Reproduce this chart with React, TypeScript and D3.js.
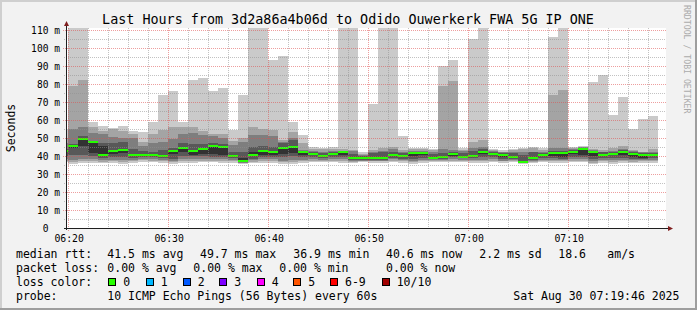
import React from 'react';
import * as d3 from 'd3';

// ---------- data ----------
const columnTimes = [
  '06:19','06:20','06:21','06:22','06:23','06:24','06:25','06:26','06:27','06:28','06:29',
  '06:30','06:31','06:32','06:33','06:34','06:35','06:36','06:37','06:38','06:39',
  '06:40','06:41','06:42','06:43','06:44','06:45','06:46','06:47','06:48','06:49',
  '06:50','06:51','06:52','06:53','06:54','06:55','06:56','06:57','06:58','06:59',
  '07:00','07:01','07:02','07:03','07:04','07:05','07:06','07:07','07:08','07:09',
  '07:10','07:11','07:12','07:13','07:14','07:15','07:16','07:17','07:18'
];

const medianRtt = [
  42.8, 45.4, 49.7, 47.6, 40.7, 43.0, 43.5, 40.7, 40.7, 40.7, 40.0, 43.0, 44.4, 43.0, 44.1, 45.7, 45.2, 40.0, 37.4, 40.7, 43.0,
  42.0, 44.4, 45.0, 42.0, 41.3, 40.2, 41.3, 42.0, 38.9, 38.9, 38.9, 38.9, 40.7, 40.2, 41.9, 41.9, 38.9, 39.5, 41.3, 39.6,
  40.2, 42.4, 41.3, 40.6, 39.6, 36.9, 39.1, 40.7, 41.9, 41.9, 42.4, 44.1, 42.4, 40.7, 41.3, 42.4, 41.3, 40.7, 40.6
];

// sorted pings per column (ping1 = fastest ... ping10 = slowest), ms
const ping1 = [
  36.5, 35.7, 36, 36.2, 36, 36.2, 35.8, 36.3, 36.6, 36.5, 36.2, 35.8, 36, 36.2, 36.5, 36.4, 36.2, 36.2, 35.4, 36, 36.3,
  36, 35.8, 35.5, 36, 36.5, 36.5, 36.5, 36.3, 36, 36.5, 36.2, 36, 36.5, 36.2, 35.5, 36, 36.5, 36.5, 36.5, 36.5,
  36.3, 36, 36.5, 36.3, 36.5, 35.5, 36, 36.5, 36, 36.3, 36.5, 36.5, 35.3, 36, 35.8, 36, 36, 36.3, 36
];
const ping2 = [
  37.5, 36.7, 37, 37.2, 36.8, 37.2, 36.8, 37.3, 37.6, 37.3, 37, 36.8, 37, 37, 37.3, 37.2, 37, 37, 35.9, 36.8, 37.2,
  37, 36.5, 36.5, 37, 37.3, 37.3, 37.5, 37.2, 36.8, 37, 37, 37, 37.5, 37, 36.5, 37, 37.3, 37.3, 37.5, 37.3,
  37.2, 37, 37.3, 37, 37.2, 36, 36.8, 37.2, 37, 37, 37.3, 37.5, 36.3, 37, 36.8, 37, 36.8, 37.2, 37
];
const ping3 = [
  38.5, 37.9, 38.3, 38.3, 37.8, 38, 37.8, 38, 38.3, 38.3, 38, 37.5, 38.3, 38.2, 38.5, 38.5, 38.2, 38, 36.3, 37.8, 38.2,
  38.3, 37.5, 37.8, 38, 38.3, 38, 38.3, 38.3, 37.3, 37.5, 37.5, 37.5, 38.2, 37.8, 37.5, 38, 37.8, 38, 38.3, 38,
  38, 38, 38.3, 37.5, 38, 36.3, 37.3, 38, 38, 37.8, 38.3, 38.5, 37.3, 38, 37.8, 38, 37.8, 38, 38
];
const ping4 = [
  40, 40.7, 40.7, 40.2, 38.8, 39.5, 39.5, 39, 39.5, 39.3, 39, 38.5, 40, 39.8, 40, 39.5, 39.5, 39, 36.8, 38.5, 39.5,
  39.5, 39.5, 40, 39.5, 39.5, 39, 39.5, 39.5, 37.8, 38, 38, 38, 39, 38.5, 38.5, 39, 38.2, 38.5, 39.3, 38.8,
  39, 39.5, 39.5, 38.5, 38.5, 36.6, 37.8, 39, 39, 38.5, 39.5, 39.5, 38.5, 39, 39, 39, 38.5, 38.5, 39
];
const ping5 = [
  42, 44.5, 45.8, 41.7, 40.5, 41, 41.5, 40.5, 40.5, 40.5, 39.8, 41, 42, 40.8, 41, 41, 40.5, 39.8, 37.2, 40.5, 40.5,
  40.5, 41, 41.5, 40.5, 40.5, 39.8, 40.5, 40.8, 38.5, 38.5, 38.5, 38.5, 40, 39.5, 40, 40.5, 38.6, 39, 40, 39.3,
  39.8, 41, 40.5, 39.5, 39, 36.8, 38.5, 40, 40, 39.5, 41, 40.5, 40, 40, 40.3, 40.5, 39.3, 39, 40
];
const ping6 = [
  43, 45.6, 49.9, 47.8, 45.5, 43.2, 43.7, 41, 41, 41, 40.5, 43.2, 44.6, 43.2, 44.3, 45.9, 45.4, 40.4, 39, 42.5, 43.2,
  42.2, 44.6, 45.2, 42.2, 41.5, 40.4, 41.5, 42.2, 39.1, 39.1, 39.1, 39.1, 40.9, 40.4, 42.1, 42.1, 39.1, 39.7, 41.5, 39.8,
  40.4, 42.6, 41.5, 40.8, 39.8, 37.1, 39.3, 40.9, 42.1, 42.1, 42.6, 44.3, 42.6, 40.9, 41.5, 42.6, 41.5, 40.9, 40.9
];
const ping7 = [
  44, 46.5, 51, 48.5, 47, 47, 48, 44, 43, 42.5, 43.5, 44.5, 47, 46.5, 46.5, 47, 46.5, 42.5, 42, 45, 45.5,
  45, 47.5, 48.8, 43, 42.5, 41.5, 42.3, 42.8, 41, 40, 41.5, 42, 42.5, 41.5, 42.5, 42.5, 41, 41.5, 42.5, 41.5,
  43, 44, 42.2, 41.5, 41.5, 40.5, 42, 41.5, 43, 43, 43.3, 44.5, 43, 42, 42.5, 43.3, 42.2, 41.5, 41.5
];
const ping8 = [
  47, 55, 56.1, 52.6, 52.2, 50.4, 49.8, 49.8, 45.5, 47, 47.6, 49.4, 52.3, 52.8, 51.7, 51.1, 49.8, 46.1, 48, 51.7, 51.7,
  51.3, 48, 49.8, 43.3, 42.8, 42.4, 42.8, 43, 43, 40.5, 42.4, 43, 44, 42.4, 43, 42.8, 42.2, 43.9, 43.3, 42.8,
  44.4, 45, 42.8, 42, 42.2, 42.4, 42.5, 42, 44.4, 44.4, 44, 44.8, 43.3, 42.4, 43, 43.9, 42.8, 42.2, 42.4
];
const ping9 = [
  50, 78.9, 82.2, 55.9, 54, 55, 54, 52.3, 47.7, 52.3, 54.2, 56.1, 56.1, 56.1, 54, 52.3, 52.3, 48.3, 49.8, 56.1, 55,
  54.4, 48.9, 53.5, 47, 43.9, 43.9, 43.9, 43.9, 43.5, 41.3, 43.1, 44.4, 45, 43.3, 43.9, 43.9, 43.1, 78.9, 81.7, 43.3,
  48, 49, 43.3, 42.5, 43.3, 43.9, 44.3, 43.3, 73.9, 76.7, 44.4, 45, 43.9, 43.3, 44.4, 45.6, 43.3, 42.5, 43.9
];
const ping10 = [
  55, 140, 140, 58.9, 56.7, 55.6, 56.7, 54, 53.6, 58.9, 73.9, 76.1, 58.9, 82.2, 83.3, 76.1, 77.8, 54.4, 74.1, 140, 140,
  93.5, 95.6, 58.9, 51.7, 45, 44.6, 45, 140, 140, 42, 69.1, 140, 140, 51.1, 44.6, 44.6, 43.9, 90.2, 93.3, 44.4,
  105.2, 140, 43.9, 43.3, 43.9, 44.6, 45, 44.6, 106.1, 140, 45, 45.3, 81.1, 85, 62.8, 72.8, 55, 60.6, 62.2
];

const yTickValues = [0, 10, 20, 30, 40, 50, 60, 70, 80, 90, 100, 110];
const yTickLabels = ['0  ', '10 m', '20 m', '30 m', '40 m', '50 m', '60 m', '70 m', '80 m', '90 m', '100 m', '110 m'];
const xTickLabels = ['06:20', '06:30', '06:40', '06:50', '07:00', '07:10'];

const lossColors = ['#26ff00', '#00b8ff', '#0059ff', '#7e00ff', '#ff00ff', '#ff5500', '#ff0000', '#a10000'];
const lossLabels = ['0', '1', '2', '3', '4', '5', '6-9', '10/10'];

const title = 'Last Hours from 3d2a86a4b06d to Odido Ouwerkerk FWA 5G IP ONE';
const legendRows = [
  { label: 'median rtt:', items: ['41.5 ms avg', '49.7 ms max', '36.9 ms min', '40.6 ms now', '2.2 ms sd', '18.6', 'am/s'] },
  { label: 'packet loss:', items: ['0.00 % avg', '0.00 % max', '0.00 % min', '0.00 % now'] },
];
const probeText = '10 ICMP Echo Pings (56 Bytes) every 60s';
const stampText = 'Sat Aug 30 07:19:46 2025';

// ---------- layout ----------
const W = 697, H = 310;
const PL = 66, PR = 666, PT = 28, PB = 228;
const FONT = '"DejaVu Sans Mono", monospace';
const day = (h: number, m: number, s = 0) => new Date(2025, 7, 30, h, m, s);
const parseHM = (s: string) => { const [h, m] = s.split(':').map(Number); return day(h, m); };

const legendItemX = [
  [107.3, 200, 293.3, 386, 479.3, 558.3, 607.3],
  [107.3, 193.3, 279.3, 386],
];
const lossBoxX = [108.3, 145.7, 182.7, 219.3, 256.7, 293.3, 330, 381.7];
const legendBaselines = [258.4, 271.8, 286, 300.1];

export default function App() {
  const x = d3.scaleTime().domain([day(6, 19, 46), day(7, 19, 46)]).range([PL, PR]);
  const y = d3.scaleLinear().domain([0, 200 / 1.8]).range([PB, PT]);
  const pings = [ping1, ping2, ping3, ping4, ping5, ping6, ping7, ping8, ping9, ping10];
  const shades = ['#cacaca', '#a4a4a4', '#7e7e7e', '#585858', '#323232'];

  const cols = columnTimes.map((t, i) => {
    const t0 = parseHM(t);
    const t1 = d3.timeMinute.offset(t0, 1);
    return { i, x0: x(t0), x1: x(t1) };
  });

  const minorY = d3.range(5, 111, 5).filter(v => v % 10 !== 0);
  const majorY = d3.range(10, 111, 10);
  const vTicks = d3.timeMinute.every(2)!.range(day(6, 20), day(7, 20)).filter(d => x(d) <= PR);
  const minorX = vTicks.filter(d => d.getMinutes() % 10 !== 0);
  const majorX = vTicks.filter(d => d.getMinutes() % 10 === 0);

  const gridMinor = 'rgba(143,143,143,0.55)';
  const gridMajor = 'rgba(222,79,79,0.55)';

  return (
    <div style={{ position: 'absolute', left: 0, top: 0 }}>
      <svg width={W} height={H} viewBox={`0 0 ${W} ${H}`} style={{ display: 'block' }} fontFamily={FONT}>
        <defs>
          <clipPath id="plotclip">
            <rect x={PL} y={PT} width={PR - PL} height={PB - PT} />
          </clipPath>
        </defs>
        <rect x={0} y={0} width={W} height={H} fill="#f2f2f2" />
        {/* 3D frame */}
        <rect x={0} y={0} width={W} height={2} fill="#cfcfcf" />
        <rect x={0} y={0} width={2} height={H} fill="#cfcfcf" />
        <rect x={0} y={H - 2} width={W} height={2} fill="#9e9e9e" />
        <rect x={W - 2} y={0} width={2} height={H} fill="#9e9e9e" />

        {/* canvas */}
        <rect x={PL} y={PT} width={PR - PL} height={PB - PT} fill="#ffffff" />

        <g clipPath="url(#plotclip)" shapeRendering="crispEdges">
          {cols.map(c => (
            <g key={c.i}>
              {shades.map((col, s) => (
                <rect key={s} x={c.x0} width={c.x1 - c.x0}
                  y={y(pings[9 - s][c.i])}
                  height={Math.max(0, y(pings[s][c.i]) - y(pings[9 - s][c.i]))}
                  fill={col} />
              ))}
              <rect x={c.x0} width={c.x1 - c.x0} y={y(medianRtt[c.i]) - 1} height={2} fill={lossColors[0]} />
            </g>
          ))}
        </g>

        {/* grid */}
        <g shapeRendering="crispEdges">
          {minorY.map(v => (
            <line key={'hy' + v} x1={PL - 2} x2={PR} y1={Math.round(y(v)) + 0.5} y2={Math.round(y(v)) + 0.5}
              stroke={gridMinor} strokeDasharray="1,1" />
          ))}
          {majorY.map(v => (
            <line key={'my' + v} x1={PL - 3} x2={PR} y1={Math.round(y(v)) + 0.5} y2={Math.round(y(v)) + 0.5}
              stroke={gridMajor} strokeDasharray="1,1" />
          ))}
          {minorX.map(d => (
            <line key={'vx' + d.getTime()} x1={Math.floor(x(d)) + 0.5} x2={Math.floor(x(d)) + 0.5} y1={PT} y2={PB + 2}
              stroke={gridMinor} strokeDasharray="1,1" />
          ))}
          {majorX.map(d => (
            <line key={'mx' + d.getTime()} x1={Math.floor(x(d)) + 0.5} x2={Math.floor(x(d)) + 0.5} y1={PT} y2={PB + 3}
              stroke={gridMajor} strokeDasharray="1,1" />
          ))}
        </g>

        {/* axes */}
        <g shapeRendering="crispEdges">
          <line x1={PL + 0.5} x2={PL + 0.5} y1={PB + 2} y2={PT - 4} stroke="#1f1f1f" />
          <line x1={PL - 2} x2={PR + 3} y1={PB + 0.5} y2={PB + 0.5} stroke="#1f1f1f" />
        </g>
        <polygon points={`${PL - 2},${PT - 2} ${PL + 3},${PT - 2} ${PL + 0.5},${PT - 7}`} fill="#801f1f" />
        <polygon points={`${PR + 2},${PB - 2} ${PR + 2},${PB + 3} ${PR + 7},${PB + 0.5}`} fill="#801f1f" />

        {/* y tick labels */}
        {yTickValues.map((v, i) => (
          <text key={'yl' + v} x={60} y={y(v) + 3.5} fontSize={9.6} textAnchor="end" fill="#000"
            style={{ whiteSpace: 'pre' }} xmlSpace="preserve">{yTickLabels[i]}</text>
        ))}
        {/* x tick labels */}
        {xTickLabels.map(l => (
          <text key={'xl' + l} x={x(parseHM(l)) + 0.8} y={242} fontSize={9.8} textAnchor="middle" fill="#000">{l}</text>
        ))}

        {/* title */}
        <text x={348} y={24} fontSize={13.4} textAnchor="middle" fill="#000">{title}</text>
        {/* y label */}
        <text transform={`translate(15,${(PT + PB) / 2}) rotate(-90)`} fontSize={11.5} textAnchor="middle" fill="#000">Seconds</text>
        {/* watermark */}
        <text transform="translate(683.5,5) rotate(90)" fontSize={8.2} fill="#ababab">RRDTOOL / TOBI OETIKER</text>

        {/* legend */}
        {legendRows.map((row, r) => (
          <g key={'lr' + r} fontSize={11.5} fill="#000">
            <text x={16} y={legendBaselines[r]}>{row.label}</text>
            {row.items.map((it, j) => (
              <text key={j} x={legendItemX[r][j]} y={legendBaselines[r]}>{it}</text>
            ))}
          </g>
        ))}
        <g fontSize={11.5} fill="#000">
          <text x={16} y={legendBaselines[2]}>loss color:</text>
          {lossLabels.map((l, j) => (
            <g key={'lc' + j}>
              <rect x={lossBoxX[j] + 0.5} y={278.5} width={7} height={7} fill={lossColors[j]} stroke="#000" strokeWidth={1} shapeRendering="crispEdges" />
              <text x={lossBoxX[j] + (j === 7 ? 15 : 15)} y={legendBaselines[2]}>{l}</text>
            </g>
          ))}
          <text x={16} y={legendBaselines[3]}>probe:</text>
          <text x={107.3} y={legendBaselines[3]}>{probeText}</text>
          <text x={513.3} y={legendBaselines[3]}>{stampText}</text>
        </g>
      </svg>
    </div>
  );
}
